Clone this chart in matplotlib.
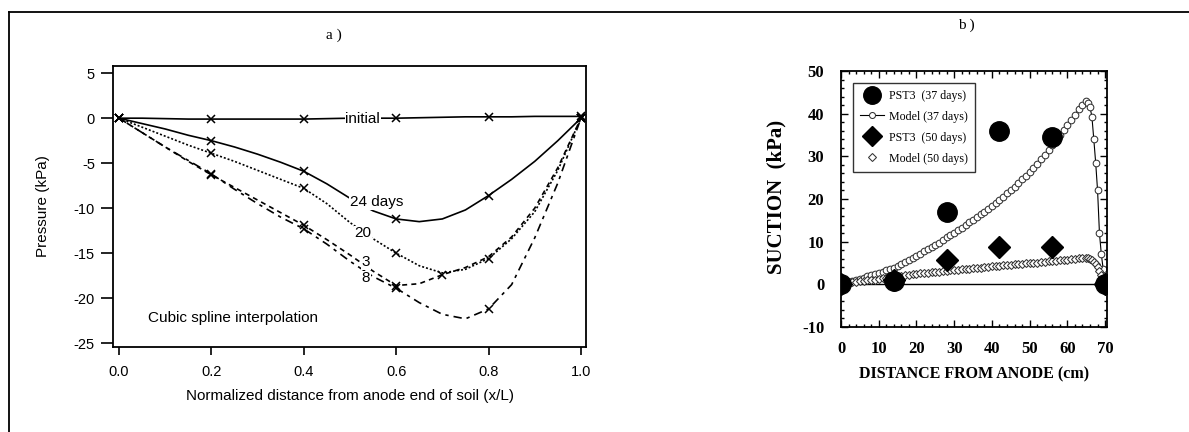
import matplotlib
matplotlib.use("Agg")
import matplotlib.pyplot as plt
from matplotlib.lines import Line2D
from matplotlib.ticker import MultipleLocator

# ---------------- panel a) data ----------------
x_norm = [0.0, 0.05, 0.1, 0.15, 0.2, 0.25, 0.3, 0.35, 0.4, 0.45, 0.5,
          0.55, 0.6, 0.65, 0.7, 0.75, 0.8, 0.85, 0.9, 0.95, 1.0]
p_initial = [0.0, 0.0, -0.05, -0.1, -0.1, -0.1, -0.1, -0.1, -0.1, -0.05, 0.0,
             0.0, 0.0, 0.05, 0.1, 0.15, 0.15, 0.15, 0.2, 0.2, 0.2]
p_24 = [0.0, -0.6, -1.2, -1.9, -2.5, -3.2, -4.0, -4.9, -5.9, -7.3, -8.9,
        -10.3, -11.2, -11.5, -11.2, -10.2, -8.6, -6.8, -4.8, -2.5, 0.0]
p_20 = [0.0, -1.0, -2.0, -3.0, -3.9, -4.8, -5.8, -6.8, -7.8, -9.5, -11.6,
        -13.4, -15.0, -16.4, -17.2, -16.8, -15.6, -13.4, -10.4, -5.8, 0.0]
p_3 = [0.0, -1.6, -3.2, -4.8, -6.3, -7.7, -9.1, -10.5, -11.9, -13.5, -15.2,
       -17.0, -18.6, -18.4, -17.4, -16.6, -15.4, -13.2, -10.0, -5.5, 0.0]
p_8 = [0.0, -1.6, -3.2, -4.7, -6.2, -7.9, -9.5, -11.0, -12.3, -14.0, -15.9,
       -17.6, -18.9, -20.5, -21.8, -22.3, -21.2, -18.5, -13.3, -7.2, 0.0]

mk_initial_x = [0.0, 0.2, 0.4, 0.6, 0.8, 1.0]
mk_initial_y = [0.0, -0.1, -0.1, 0.0, 0.15, 0.2]
mk_24_x = [0.0, 0.2, 0.4, 0.6, 0.8, 1.0]
mk_24_y = [0.0, -2.5, -5.9, -11.2, -8.6, 0.0]
mk_20_x = [0.0, 0.2, 0.4, 0.6, 0.8, 1.0]
mk_20_y = [0.0, -3.9, -7.8, -15.0, -15.6, 0.0]
mk_3_x = [0.0, 0.2, 0.4, 0.6, 0.7, 1.0]
mk_3_y = [0.0, -6.3, -11.9, -18.6, -17.4, 0.0]
mk_8_x = [0.0, 0.2, 0.4, 0.6, 0.8, 1.0]
mk_8_y = [0.0, -6.2, -12.3, -18.9, -21.2, 0.0]

a_xticks = [0.0, 0.2, 0.4, 0.6, 0.8, 1.0]
a_xticklabels = ["0.0", "0.2", "0.4", "0.6", "0.8", "1.0"]
a_yticks = [5, 0, -5, -10, -15, -20, -25]
a_yticklabels = ["5", "0", "-5", "-10", "-15", "-20", "-25"]

# ---------------- panel b) data ----------------
pst3_37_x = [0, 14, 28, 42, 56, 70]
pst3_37_y = [0.0, 0.8, 16.9, 36.0, 34.5, 0.0]
pst3_50_x = [0, 14, 28, 42, 56, 70]
pst3_50_y = [0.0, 1.0, 5.8, 8.8, 8.8, 0.0]

model37_x = list(range(0, 65)) + [65, 65.5, 66, 66.5, 67, 67.5, 68, 68.5, 69, 69.5, 70]
model37_y = [0.0, 0.3, 0.5, 0.8, 1.1, 1.3, 1.6, 1.9, 2.1, 2.4,
             2.7, 3.0, 3.3, 3.6, 3.9, 4.3, 4.8, 5.2, 5.7, 6.2,
             6.7, 7.2, 7.7, 8.2, 8.8, 9.3, 9.8, 10.4, 11.0, 11.5,
             12.1, 12.7, 13.3, 13.9, 14.5, 15.1, 15.7, 16.4, 17.0, 17.7,
             18.4, 19.1, 19.8, 20.5, 21.3, 22.0, 22.8, 23.7, 24.6, 25.5,
             26.4, 27.3, 28.3, 29.3, 30.4, 31.5, 32.6, 33.8, 35.0, 36.2,
             37.4, 38.6, 39.8, 41.0, 42.1,
             42.9, 42.6, 41.5, 39.3, 34.0, 28.5, 22.0, 12.0, 7.0, 3.5, 0.0]

model50_x = list(range(0, 65)) + [65, 65.5, 66, 66.5, 67, 67.5, 68, 68.5, 69, 69.5, 70]
model50_y = [0.0, 0.15, 0.3, 0.45, 0.6, 0.7, 0.8, 0.9, 1.0, 1.1,
             1.3, 1.4, 1.5, 1.65, 1.8, 1.9, 2.0, 2.1, 2.2, 2.35,
             2.5, 2.6, 2.7, 2.75, 2.8, 2.9, 3.0, 3.1, 3.2, 3.3,
             3.35, 3.4, 3.5, 3.6, 3.7, 3.8, 3.85, 3.9, 4.0, 4.1,
             4.2, 4.3, 4.4, 4.5, 4.55, 4.6, 4.7, 4.75, 4.8, 4.9,
             5.0, 5.05, 5.1, 5.2, 5.3, 5.4, 5.5, 5.55, 5.6, 5.7,
             5.8, 5.9, 6.0, 6.1, 6.2,
             6.2, 6.1, 6.0, 5.7, 5.3, 4.8, 4.0, 3.1, 2.2, 1.1, 0.0]

b_xticks = [0, 10, 20, 30, 40, 50, 60, 70]
b_yticks = [-10, 0, 10, 20, 30, 40, 50]

# ---------------- figure ----------------
W, H = 1189, 432
fig = plt.figure(figsize=(W / 100, H / 100), dpi=100)
fig.patch.set_facecolor("white")

SANS = ["Liberation Sans", "DejaVu Sans"]
SERIF = ["Liberation Serif", "DejaVu Serif"]

# page frame (top and left rules)
fig.add_artist(Line2D([9 / W, 1.0], [1 - 12 / H, 1 - 12 / H], transform=fig.transFigure,
                      color="black", lw=1.3))
fig.add_artist(Line2D([9 / W, 9 / W], [0.0, 1 - 12 / H], transform=fig.transFigure,
                      color="black", lw=1.3))

# ---------- panel a ----------
axa = fig.add_axes([113 / W, 1 - 346.7 / H, (586 - 113) / W, (346.7 - 66) / H])
lw = 1.2
mkw = dict(ls="none", marker="x", ms=6, mew=1.1, color="black")
axa.plot(x_norm, p_initial, color="black", lw=lw)
axa.plot(mk_initial_x, mk_initial_y, **mkw)
axa.plot(x_norm, p_24, color="black", lw=lw)
axa.plot(mk_24_x, mk_24_y, **mkw)
axa.plot(x_norm, p_20, color="black", lw=lw, ls=(0, (1.2, 1.2)))
axa.plot(mk_20_x, mk_20_y, **mkw)
axa.plot(x_norm, p_3, color="black", lw=lw, ls=(0, (3, 2.5)))
axa.plot(mk_3_x, mk_3_y, **mkw)
axa.plot(x_norm, p_8, color="black", lw=lw, ls=(0, (5, 3, 2, 3)))
axa.plot(mk_8_x, mk_8_y, **mkw)

axa.set_xlim(-0.013, 1.011)
axa.set_ylim(-25.4, 5.8)
axa.set_xticks(a_xticks)
axa.set_xticklabels(a_xticklabels, family=SANS, fontsize=10.5)
axa.set_yticks(a_yticks)
axa.set_yticklabels(a_yticklabels, family=SANS, fontsize=10.5)
axa.tick_params(axis="x", direction="out", length=6, width=1.2, pad=7)
axa.tick_params(axis="y", direction="out", length=9, width=1.2, pad=4)
for s in axa.spines.values():
    s.set_linewidth(1.3)
axa.set_xlabel("Normalized distance from anode end of soil (x/L)", family=SANS, fontsize=11)
axa.xaxis.set_label_coords(0.5, -0.152)
axa.set_ylabel("Pressure (kPa)", family=SANS, fontsize=11)
axa.yaxis.set_label_coords(-0.133, 0.5)

bb = dict(facecolor="white", edgecolor="none", pad=0.5)
fs_lab = 11
axa.text(0.49, -0.1, "initial", family=SANS, fontsize=fs_lab, va="center", ha="left", bbox=bb)
axa.text(0.50, -9.3, "24 days", family=SANS, fontsize=fs_lab, va="center", ha="left", bbox=bb)
axa.text(0.51, -12.8, "20", family=SANS, fontsize=fs_lab, va="center", ha="left", bbox=bb)
axa.text(0.525, -16.0, "3", family=SANS, fontsize=fs_lab, va="center", ha="left", bbox=bb)
axa.text(0.525, -17.8, "8", family=SANS, fontsize=fs_lab, va="center", ha="left", bbox=bb)
axa.text(0.063, -22.2, "Cubic spline interpolation", family=SANS, fontsize=fs_lab,
         va="center", ha="left")

fig.text(334 / W, 1 - 35 / H, "a )", family=SERIF, fontsize=11, ha="center", va="center")

# ---------- panel b ----------
axb = fig.add_axes([841 / W, 1 - 327 / H, (1107 - 841) / W, (327 - 71) / H])
axb.axhline(0, color="black", lw=1.0, zorder=1)
axb.plot(model37_x, model37_y, color="black", lw=0.8, marker="o", ms=4.8,
         mfc="white", mec="#333333", mew=0.75, label="Model (37 days)", zorder=2)
axb.plot(model50_x, model50_y, ls="none", marker="D", ms=4.4,
         mfc="white", mec="#333333", mew=0.75, label="Model (50 days)", zorder=2)
axb.plot(pst3_37_x, pst3_37_y, ls="none", marker="o", ms=14, color="black",
         label="PST3  (37 days)", zorder=3)
axb.plot(pst3_50_x, pst3_50_y, ls="none", marker="D", ms=11, color="black",
         label="PST3  (50 days)", zorder=3)

axb.set_xlim(0, 70.5)
axb.set_ylim(-10, 50)
axb.set_xticks(b_xticks)
axb.set_yticks(b_yticks)
axb.set_xticklabels([str(v) for v in b_xticks], family=SERIF, fontsize=12, fontweight="bold")
axb.set_yticklabels([str(v) for v in b_yticks], family=SERIF, fontsize=12, fontweight="bold")
axb.xaxis.set_minor_locator(MultipleLocator(2))
axb.yaxis.set_minor_locator(MultipleLocator(2))
axb.tick_params(which="both", direction="in", top=True, right=True, width=1.0)
axb.tick_params(which="major", length=5)
axb.tick_params(axis="x", which="major", pad=10)
axb.tick_params(axis="y", which="major", pad=12)
axb.tick_params(which="minor", length=2.5)
for s in axb.spines.values():
    s.set_linewidth(1.3)
axb.set_xlabel("DISTANCE FROM ANODE (cm)", family=SERIF, fontsize=11.5, fontweight="bold")
axb.xaxis.set_label_coords(0.5, -0.155)
axb.set_ylabel("SUCTION  (kPa)", family=SERIF, fontsize=15, fontweight="bold")
axb.yaxis.set_label_coords(-0.205, 0.51)

h, l = axb.get_legend_handles_labels()
order = [2, 0, 3, 1]
leg = axb.legend([h[i] for i in order], [l[i] for i in order], loc="upper left",
                 bbox_to_anchor=(0.045, 0.955), prop={"family": SERIF, "size": 8.6},
                 frameon=True, fancybox=False, edgecolor="black", handlelength=2.0,
                 borderpad=0.6, labelspacing=0.75, handletextpad=0.4, markerscale=0.9,
                 borderaxespad=0)
leg.get_frame().set_linewidth(1.0)

fig.text(966 / W, 1 - 25 / H, "b )", family=SERIF, fontsize=11, ha="center", va="center")

fig.savefig("out.png", dpi=100, facecolor="white")
